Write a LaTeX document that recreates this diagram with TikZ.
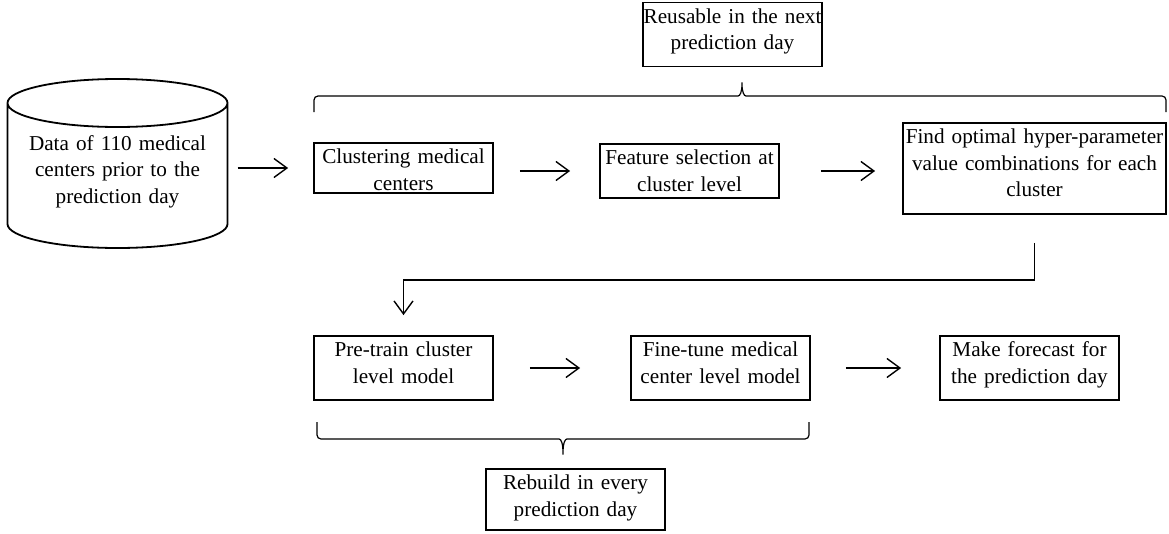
\documentclass[tikz,border=0pt]{standalone}
\usepackage{fontspec}
\setmainfont{Liberation Serif}
\usetikzlibrary{arrows.meta}

\begin{document}
\begin{tikzpicture}[x=1pt,y=-1pt,
  every node/.style={font=\fontsize{21.2}{26.5}\selectfont},
  stepbox/.style={draw,line width=1.8pt,text width=178pt,align=center,
    inner xsep=0.5pt,inner ysep=2.5pt,text height=18pt,text depth=#1},
  stepbox/.default=41pt,
  flow/.style={line width=1.4pt,-{Straight Barb[length=13pt,width=19pt]}},
  brace/.style={line width=1.2pt,rounded corners=4pt}]
\useasboundingbox (0,0) rectangle (1169,533);

\node[text width=220pt,align=center,inner sep=0pt,text height=18pt,text depth=45pt]
  (data) at (117.5,163.5) {Data of 110 medical\\centers prior to the\\prediction day};
\draw[line width=1.8pt]
(117.5,103) ellipse [x radius=110pt,y radius=24pt]
(7.5,103) -- (7.5,224) arc [start angle=180,end angle=360,x radius=110pt,y radius=24pt]
-- (227.5,103);

\node[stepbox] (reuse) at (732.5,34.5) {Reusable in the next\\prediction day};
\node[stepbox=27pt] (clu) at (403.5,168) {Clustering medical\\centers};
\node[stepbox=31pt] (feat) at (689.5,171) {Feature selection at\\cluster level};
\node[stepbox=68pt,text width=262pt] (find) at (1034.5,168.5)
  {Find optimal hyper-parameter\\value combinations for each\\cluster};
\node[stepbox] (pre) at (403.5,368) {Pre-train cluster\\level model};
\node[stepbox] (fine) at (720.5,368) {Fine-tune medical\\center level model};
\node[stepbox] (fore) at (1029.5,368) {Make forecast for\\the prediction day};
\node[stepbox=38pt] (rebuild) at (575.5,499.5) {Rebuild in every\\prediction day};

\draw[flow,shorten <=10pt,shorten >=25pt] (data.east |- clu.west) -- (clu.west);
\draw[flow,shorten <=26pt,shorten >=29pt] (clu.east |- feat.west) -- (feat.west);
\draw[flow,shorten <=41pt,shorten >=27pt] (feat.east) -- (feat.east -| find.west);
\draw[flow,shorten <=28pt,shorten >=20pt] (find.south) -- ++(0,65) -| (pre.north);
\draw[flow,shorten <=36pt,shorten >=50pt] (pre.east) -- (fine.west);
\draw[flow,shorten <=35pt,shorten >=38pt] (fine.east) -- (fore.west);

\coordinate (toptip) at (742,80);
\coordinate (bottip) at (563,457);
\draw[brace]
(314,112) |- (734,96) .. controls (740,96) and (742,92) .. (toptip)
.. controls (742,92) and (744,96) .. (750,96) -| (1166,112);
\draw[brace]
(317,422) |- (555,439) .. controls (561,439) and (563,443) .. (bottip)
.. controls (563,443) and (565,439) .. (571,439) -| (809,422);
\end{tikzpicture}
\end{document}
